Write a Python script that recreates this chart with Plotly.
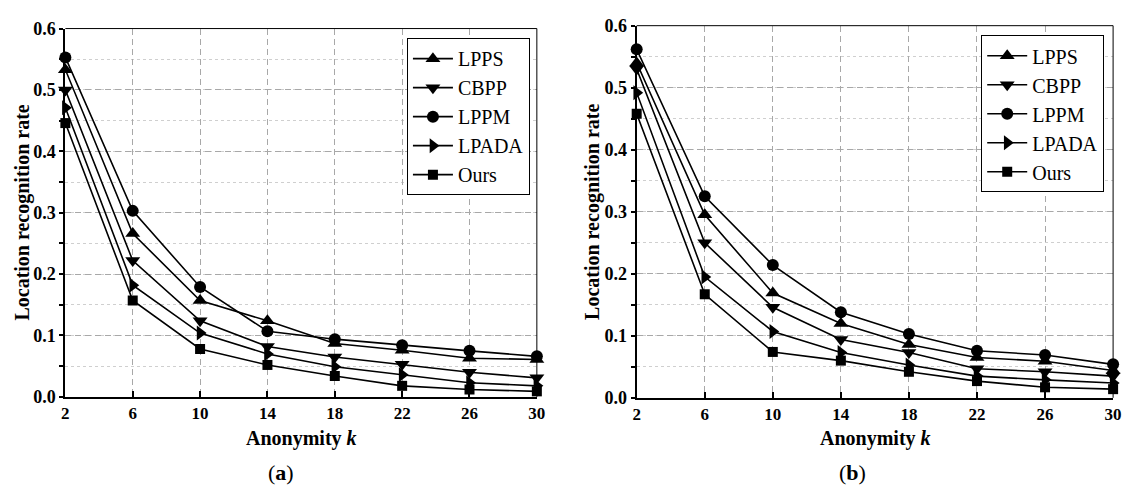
import plotly.graph_objects as go

k_values = [2, 6, 10, 14, 18, 22, 26, 30]
series_names = ["LPPS", "CBPP", "LPPM", "LPADA", "Ours"]

# panel (a)
a_LPPS = [0.533, 0.266, 0.157, 0.124, 0.087, 0.076, 0.063, 0.061]
a_CBPP = [0.500, 0.222, 0.124, 0.082, 0.065, 0.053, 0.040, 0.031]
a_LPPM = [0.553, 0.303, 0.179, 0.107, 0.094, 0.084, 0.075, 0.066]
a_LPADA = [0.471, 0.182, 0.104, 0.070, 0.049, 0.036, 0.023, 0.018]
a_Ours = [0.446, 0.157, 0.078, 0.052, 0.034, 0.018, 0.012, 0.009]

# panel (b)
b_LPPS = [0.540, 0.295, 0.169, 0.120, 0.086, 0.065, 0.059, 0.044]
b_CBPP = [0.530, 0.250, 0.146, 0.094, 0.073, 0.047, 0.042, 0.035]
b_LPPM = [0.562, 0.325, 0.214, 0.138, 0.103, 0.076, 0.069, 0.054]
b_LPADA = [0.492, 0.195, 0.107, 0.073, 0.053, 0.035, 0.029, 0.024]
b_Ours = [0.458, 0.167, 0.074, 0.060, 0.042, 0.027, 0.017, 0.014]

x_ticks = [2, 6, 10, 14, 18, 22, 26, 30]
y_ticks = [0.0, 0.1, 0.2, 0.3, 0.4, 0.5, 0.6]
y_ticklabels = ["0.0", "0.1", "0.2", "0.3", "0.4", "0.5", "0.6"]

symbols = ["triangle-up", "triangle-down", "circle", "triangle-right", "square"]
sizes = [13, 13, 12, 13, 10]

# page body has an 8px default margin: figure starts at (8, 8)
OFF = 8
W, H = 1131 - OFF, 498 - OFF
SERIF = "Liberation Serif"

fig = go.Figure()

panels = [
    ("x", "y", "legend", [a_LPPS, a_CBPP, a_LPPM, a_LPADA, a_Ours]),
    ("x2", "y2", "legend2", [b_LPPS, b_CBPP, b_LPPM, b_LPADA, b_Ours]),
]
for xa, ya, lg, data in panels:
    for name, vals, sym, sz in zip(series_names, data, symbols, sizes):
        fig.add_trace(go.Scatter(
            x=k_values, y=vals, name=name, mode="lines+markers",
            xaxis=xa, yaxis=ya, legend=lg, cliponaxis=False,
            line=dict(color="black", width=1.6),
            marker=dict(symbol=sym, size=sz, color="black"),
        ))

def px_x(p):
    return (p - OFF) / W

def px_y(p):
    return (H - (p - OFF)) / H

xdoms = [[px_x(62), px_x(539)], [px_x(640), px_x(1122)]]
ydoms = [[px_y(403), px_y(19)], [px_y(404), px_y(16)]]

common_x = dict(
    range=[2, 30], tickvals=x_ticks, ticktext=[str(v) for v in x_ticks],
    ticks="inside", ticklen=6, tickwidth=1.5, tickcolor="black",
    showline=True, linecolor="black", linewidth=2, mirror=False,
    showgrid=True, gridcolor="#a8a8a8", griddash="6px,4px", gridwidth=1,
    zeroline=False,
    tickfont=dict(family=SERIF, size=17, color="black", weight="bold"),
)
common_y = dict(
    range=[0, 0.6], tickvals=y_ticks, ticktext=y_ticklabels,
    ticks="outside", ticklen=4, tickwidth=1.5, tickcolor="black",
    showline=True, linecolor="black", linewidth=2, mirror=False,
    showgrid=True, gridcolor="#a8a8a8", griddash="6px,4px", gridwidth=1,
    zeroline=False,
    minor=dict(dtick=0.05, ticks="outside", ticklen=4, tickcolor="black",
               showgrid=True, gridcolor="#cfcfcf", griddash="dot", gridwidth=1),
    tickfont=dict(family=SERIF, size=18, color="black", weight="bold"),
)

fig.update_layout(
    width=W, height=H,
    margin=dict(l=0, r=0, t=0, b=0),
    paper_bgcolor="white", plot_bgcolor="white",
    xaxis=dict(domain=xdoms[0], anchor="y", **common_x),
    yaxis=dict(domain=ydoms[0], anchor="x", **common_y),
    xaxis2=dict(domain=xdoms[1], anchor="y2", **common_x),
    yaxis2=dict(domain=ydoms[1], anchor="x2", **common_y),
    legend=dict(x=px_x(532), y=px_y(29), xanchor="right", yanchor="top",
                bgcolor="white", bordercolor="black", borderwidth=1,
                font=dict(family=SERIF, size=20, color="black"),
                tracegroupgap=0, itemwidth=40),
    legend2=dict(x=px_x(1113), y=px_y(26), xanchor="right", yanchor="top",
                 bgcolor="white", bordercolor="black", borderwidth=1,
                 font=dict(family=SERIF, size=20, color="black"),
                 tracegroupgap=0, itemwidth=40),
    showlegend=True,
)

# thin top/right frame lines
for xr, yr in [("x domain", "y domain"), ("x2 domain", "y2 domain")]:
    fig.add_shape(type="line", xref=xr, yref=yr, x0=0, x1=1, y0=1, y1=1,
                  line=dict(color="black", width=1))
    fig.add_shape(type="line", xref=xr, yref=yr, x0=1, x1=1, y0=0, y1=1,
                  line=dict(color="black", width=1))

title_font = dict(family=SERIF, size=20, color="black")
annos = [
    dict(text="<b>Location recognition rate</b>", x=px_x(19), y=px_y(211), textangle=-90),
    dict(text="<b>Location recognition rate</b>", x=px_x(596), y=px_y(210), textangle=-90),
    dict(text="<b>Anonymity <i>k</i></b>", x=px_x(301), y=px_y(446)),
    dict(text="<b>Anonymity <i>k</i></b>", x=px_x(882), y=px_y(446)),
]
for a in annos:
    fig.add_annotation(xref="paper", yref="paper", showarrow=False,
                       xanchor="center", yanchor="middle", font=title_font, **a)

for txt, xc in [("(<b>a</b>)", 280), ("(<b>b</b>)", 858)]:
    fig.add_annotation(text=txt, xref="paper", yref="paper", x=px_x(xc), y=px_y(482),
                       showarrow=False, xanchor="center", yanchor="middle",
                       font=dict(family=SERIF, size=22, color="black"))

fig.write_html("out.html")
